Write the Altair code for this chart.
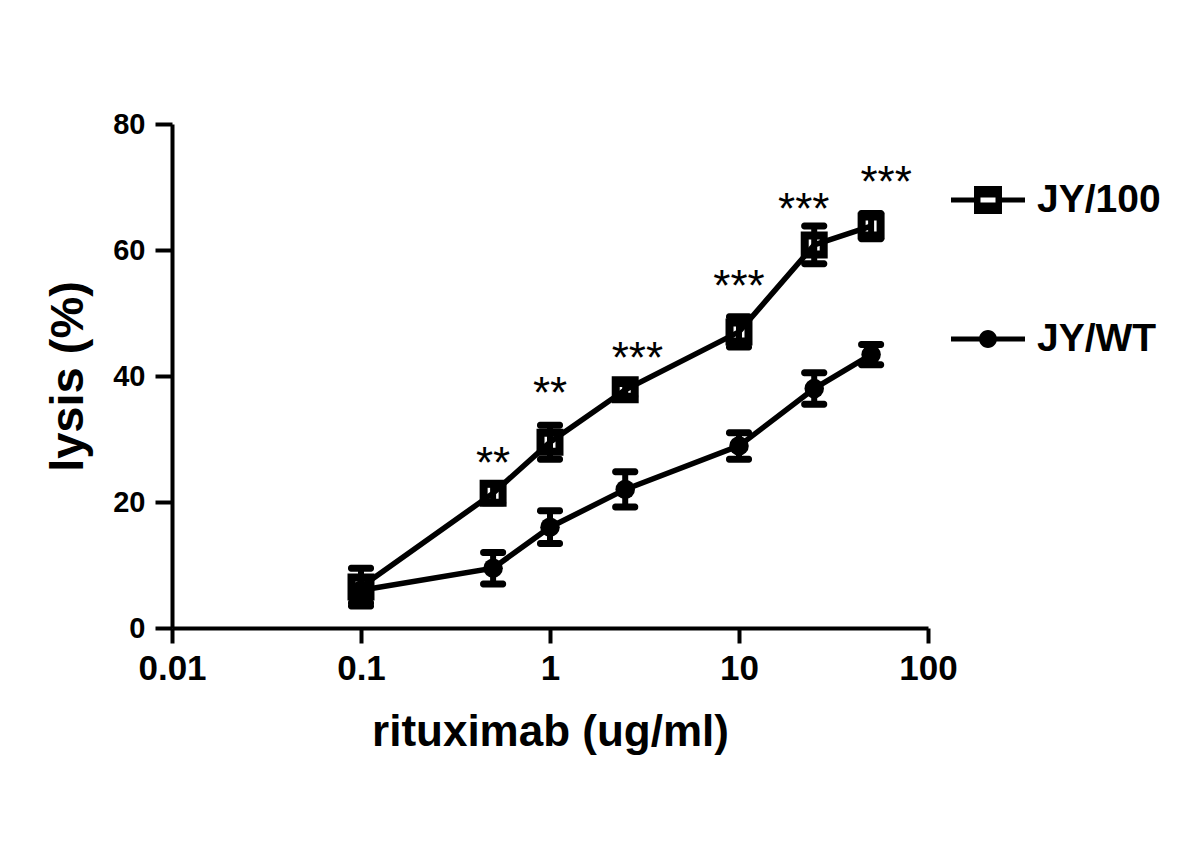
import altair as alt
import pandas as pd

# ---- data ----
conc = [0.1, 0.5, 1, 2.5, 10, 25, 50]
jy100_mean = [6.5, 21.4, 29.5, 37.8, 47.0, 60.8, 63.8]
jy100_err = [3.0, 1.5, 2.7, 1.0, 2.4, 3.0, 2.0]
jywt_mean = [6.0, 9.5, 16.0, 22.0, 28.9, 38.0, 43.4]
jywt_err = [2.0, 2.5, 2.6, 2.8, 2.1, 2.5, 1.6]

star_labels = ["**", "**", "***", "***", "***", "***"]
star_x = [0.5, 1, 2.9, 10, 22, 60]
star_y = [27.5, 38.6, 44.1, 55.6, 67.8, 72.0]

series_names = ["JY/100", "JY/WT"]
x_ticks = [0.01, 0.1, 1, 10, 100]
y_ticks = [0, 20, 40, 60, 80]

rows = []
for name, means, errs in [("JY/100", jy100_mean, jy100_err), ("JY/WT", jywt_mean, jywt_err)]:
    for c, m, e in zip(conc, means, errs):
        rows.append({"series": name, "conc": c, "mean": m, "lo": m - e, "hi": m + e})
df = pd.DataFrame(rows)
stars_df = pd.DataFrame({"x": star_x, "y": star_y, "label": star_labels})

FONT = "Liberation Sans"

xscale = alt.Scale(type="log", domain=[0.01, 100])
yscale = alt.Scale(domain=[0, 80], nice=False, zero=False)

x_axis = alt.Axis(
    values=x_ticks, format="~g", title="rituximab (ug/ml)", grid=False,
    domainColor="black", domainWidth=4, tickColor="black", tickWidth=4, tickSize=15,
    labelFont=FONT, labelFontWeight="bold", labelFontSize=35, labelColor="black",
    labelPadding=8, labelFlush=False, labelOverlap=False,
    titleFont=FONT, titleFontWeight="bold", titleFontSize=44, titleColor="black",
    titleY=117, titleBaseline="alphabetic",
)
y_axis = alt.Axis(
    values=y_ticks, title="lysis (%)", grid=False,
    domainColor="black", domainWidth=4, tickColor="black", tickWidth=4, tickSize=17,
    labelFont=FONT, labelFontWeight="bold", labelFontSize=29, labelColor="black",
    labelPadding=10, labelFlush=False, labelOverlap=False,
    titleFont=FONT, titleFontWeight="bold", titleFontSize=47, titleColor="black",
    titleX=-90, titleY=252, titleAngle=270, titleAlign="center", titleBaseline="alphabetic",
)

def X(field):
    return alt.X(f"{field}:Q", scale=xscale, axis=x_axis)

def Y(field):
    return alt.Y(f"{field}:Q", scale=yscale, axis=y_axis)

base = alt.Chart(df)

rules = base.mark_rule(color="black", strokeWidth=6).encode(
    x=X("conc"), y=Y("lo"), y2="hi:Q"
)
caps = base.transform_fold(["lo", "hi"], as_=["k", "v"]).mark_tick(
    orient="horizontal", size=26, thickness=7, color="black", opacity=1, cornerRadius=3
).encode(x=X("conc"), y=Y("v"))

squares = base.transform_filter(alt.datum.series == "JY/100").mark_point(
    shape="square", size=360, filled=False, stroke="black", strokeWidth=8, opacity=1
).encode(x=X("conc"), y=Y("mean"))

circles = base.transform_filter(alt.datum.series == "JY/WT").mark_point(
    shape="circle", size=380, filled=True, color="black", opacity=1
).encode(x=X("conc"), y=Y("mean"))

lines = base.mark_line(color="black", strokeWidth=5.5).encode(
    x=X("conc"), y=Y("mean"), detail="series:N"
)

stars = alt.Chart(stars_df).mark_text(
    font=FONT, fontSize=44, dy=23, baseline="alphabetic", align="center", color="black"
).encode(x=X("x"), y=Y("y"), text="label:N")

# legend symbols drawn as filled shapes (normalized to [-1, 1])
sq_path = ("M-0.378,-0.378H0.378V0.378H-0.378Z"
           "M-0.203,-0.068V0.068H0.203V-0.068Z"
           "M-1,-0.068H-0.378V0.068H-1Z"
           "M0.378,-0.068H1V0.068H0.378Z")
ci_path = ("M-1,-0.068H1V0.068H-1Z"
           "M-0.243,0A0.243,0.243 0 1,1 0.243,0A0.243,0.243 0 1,1 -0.243,0Z")

legend_layer = base.transform_filter("false").mark_point(
    filled=True, color="black", opacity=1, size=5476
).encode(
    shape=alt.Shape(
        "series:N",
        scale=alt.Scale(domain=series_names, range=[sq_path, ci_path]),
        legend=alt.Legend(
            orient="none", legendX=779, legendY=39, title=None,
            symbolSize=5476, symbolStrokeWidth=0, symbolFillColor="black",
            symbolOpacity=1,
            labelFont=FONT, labelFontWeight="bold", labelFontSize=39,
            labelColor="black", labelOffset=12, rowPadding=82, padding=0,
            labelLimit=0,
        ),
    )
)

chart = alt.layer(rules, caps, squares, circles, lines, stars, legend_layer).properties(
    width=756, height=504,
    autosize=alt.AutoSizeParams(type="none"),
    padding={"left": 164, "top": 116, "right": 260, "bottom": 200},
    background="white",
).configure_view(stroke=None)

chart.save("out.html", embed_options={"renderer": "svg", "actions": False})
